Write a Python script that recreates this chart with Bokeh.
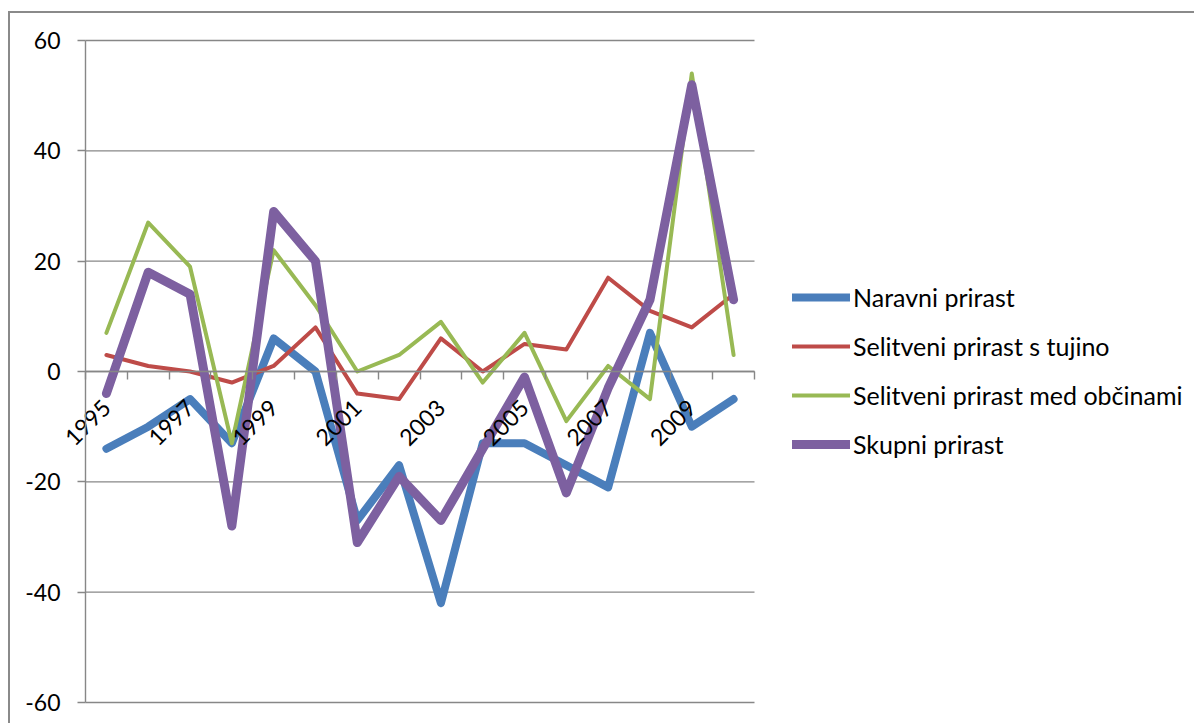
from bokeh.plotting import figure
from bokeh.layouts import column
from bokeh.models import Range1d, LinearAxis, FixedTicker, Legend, LegendItem
from bokeh.embed import file_html
from bokeh.resources import INLINE

years = list(range(1995, 2011))
naravni = [-14, -10, -5, -13, 6, 0, -27, -17, -42, -13, -13, -17, -21, 7, -10, -5]
tujina = [3, 1, 0, -2, 1, 8, -4, -5, 6, 0, 5, 4, 17, 11, 8, 14]
obcine = [7, 27, 19, -13, 22, 12, 0, 3, 9, -2, 7, -9, 1, -5, 54, 3]
skupni = [-4, 18, 14, -28, 29, 20, -31, -19, -27, -14, -1, -22, -3, 13, 52, 13]
y_ticks = [-60, -40, -20, 0, 20, 40, 60]
series_names = ["Naravni prirast", "Selitveni prirast s tujino",
                "Selitveni prirast med občinami", "Skupni prirast"]
label_years = years[::2]

FONT = "Lato"
FS = "23px"
GRID = "#878787"

# category boundaries (tick marks between the years)
bounds = [y - 0.5 for y in years] + [years[-1] + 0.5]

# layout (pixels): canvas spans 10..1196 x 13..725; plot area 85..754 x 40..702
CX0, CY0, CX1, CY1 = 10, 13, 1196, 725
PX0, PY0, PX1, PY1 = 85, 40, 754, 702
px_year = (PX1 - PX0) / len(years)
px_unit = (PY1 - PY0) / (y_ticks[-1] - y_ticks[0])
x_start = bounds[0] - (PX0 - CX0) / px_year
x_end = bounds[-1] + (CX1 - PX1) / px_year
y_end = y_ticks[-1] + (PY0 - CY0) / px_unit
y_start = y_ticks[0] - (CY1 - PY1) / px_unit

p = figure(width=CX1 - CX0, height=CY1 - CY0,
           x_range=Range1d(x_start, x_end), y_range=Range1d(y_start, y_end),
           output_backend="svg", toolbar_location=None,
           x_axis_type=None, y_axis_type=None,
           min_border_left=0, min_border_top=0, min_border_bottom=0,
           min_border_right=0)
p.styles = {"border-left": "2px solid #8a8a8a", "border-top": "2px solid #8a8a8a"}
p.outline_line_color = None
p.background_fill_color = "white"
p.border_fill_color = "white"

# horizontal gridlines across the category area
p.segment(x0=[bounds[0]] * len(y_ticks), x1=[bounds[-1]] * len(y_ticks),
          y0=y_ticks, y1=y_ticks, line_color=GRID, line_width=1.4)

ya = LinearAxis(fixed_location=bounds[0], bounds=(y_ticks[0], y_ticks[-1]),
                ticker=FixedTicker(ticks=y_ticks),
                major_label_overrides={t: str(t) for t in y_ticks},
                major_tick_in=0, major_tick_out=8, minor_tick_in=0, minor_tick_out=0,
                major_label_standoff=17,
                axis_line_color=GRID, axis_line_width=1.4,
                major_tick_line_color=GRID, major_tick_line_width=1.4,
                major_label_text_font=FONT, major_label_text_font_size=FS,
                major_label_text_color="black")
p.add_layout(ya, "left")

xa = LinearAxis(fixed_location=0, bounds=(bounds[0], bounds[-1]),
                ticker=FixedTicker(ticks=label_years, minor_ticks=bounds),
                major_label_overrides={yv: str(yv) for yv in label_years},
                major_label_orientation=0.785398,
                major_label_standoff=24,
                major_label_text_font=FONT, major_label_text_font_size=FS,
                major_label_text_color="black",
                major_tick_in=0, major_tick_out=0, minor_tick_in=0, minor_tick_out=8,
                axis_line_color=GRID, axis_line_width=1.4,
                minor_tick_line_color=GRID, minor_tick_line_width=1.4)
p.add_layout(xa, "below")

colors = ["#4A7EBB", "#BE4B48", "#98B954", "#7D60A0"]
widths = [8, 4, 4, 9]
data = [naravni, tujina, obcine, skupni]
renderers = []
for vals, c, w in zip(data, colors, widths):
    r = p.line(years, vals, line_color=c, line_width=w, line_join="round", line_cap="round")
    renderers.append(r)

legend = Legend(items=[LegendItem(label=nm, renderers=[r]) for nm, r in zip(series_names, renderers)],
                location=(792 - CX0, 266), glyph_width=58, glyph_height=30, label_height=30,
                spacing=19, padding=0, margin=0, label_standoff=3,
                border_line_color=None, background_fill_alpha=0,
                label_text_font=FONT, label_text_font_size="25px", label_text_color="black")
p.add_layout(legend)

lay = column(p, styles={"padding-left": "8px", "padding-top": "11px"})

open("out.html", "w").write(file_html(lay, INLINE))
